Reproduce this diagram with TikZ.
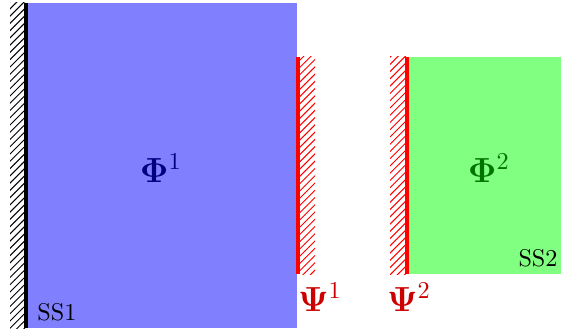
\documentclass[tikz,border=0pt]{standalone}
\usepackage{amsmath,amssymb}
\usepackage{tikz}
\usetikzlibrary{patterns,positioning}
\tikzset{
  sub domain/.style={draw=none},
  fixed wall/.style={pattern=north east lines,pattern color=black},
  interface wall/.style={pattern=north east lines,pattern color=red},
  wall line/.style={line width=1.6pt},
  field label/.style={font=\Large,inner sep=1pt},
  ss label/.style={font=\normalsize,inner sep=1pt}
}

\begin{document}
\begin{tikzpicture}[x=0.4133pt,y=-0.4133pt]
    \useasboundingbox (0,0) rectangle (561,331);
    % subdomain 1
    \coordinate (blueNW) at (26,3);
    \coordinate (blueSE) at (297,328);
    \fill[sub domain,fill=blue!50] (blueNW) rectangle (blueSE);
    \fill[fixed wall] (10,3) rectangle (blueNW |- blueSE);
    \draw[wall line,black] (blueNW) -- (blueNW |- blueSE);
    % subdomain 2
    \coordinate (greenNW) at (407,57);
    \coordinate (greenSE) at (561,274);
    \fill[sub domain,fill=green!50] (greenNW) rectangle (greenSE);
    % interfaces
    \coordinate (psioneN) at (298,57);
    \coordinate (psioneS) at (298,274);
    \fill[interface wall] (psioneN) rectangle (315,274);
    \draw[wall line,red] (psioneN) -- (psioneS);
    \fill[interface wall] (390,57) rectangle (greenNW |- greenSE);
    \draw[wall line,red] (greenNW) -- (greenNW |- greenSE);
    % labels
    \node[field label,text=blue!50!black] (phione) at (161,168) {$\mathbf{\Phi}^1$};
    \node[field label,text=green!45!black] (phitwo) at (489,168) {$\mathbf{\Phi}^2$};
    \node[field label,text=red!80!black] (psione) at (320,297) {$\mathbf{\Psi}^1$};
    \node[field label,text=red!80!black] (psitwo) at (409,297) {$\mathbf{\Psi}^2$};
    \node[ss label] (ssone) at (57,312) {SS1};
    \node[ss label] (sstwo) at (538,258) {SS2};
  \end{tikzpicture}
\end{document}
